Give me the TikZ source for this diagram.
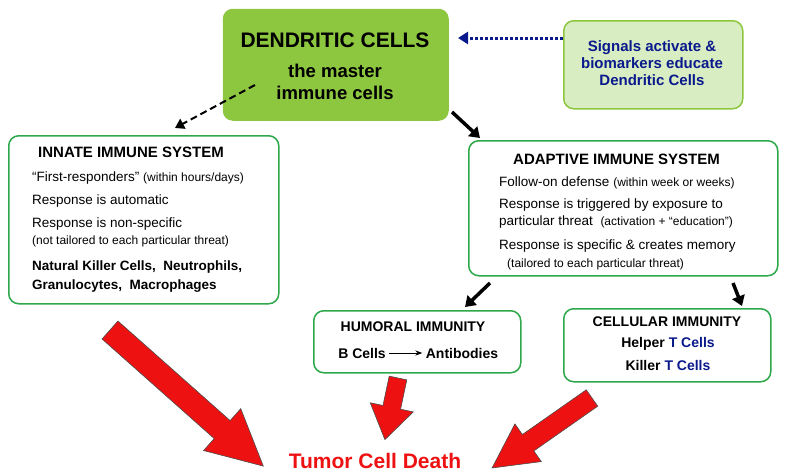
\documentclass[tikz,border=0pt]{standalone}
\usepackage{fontspec}
\setmainfont{Liberation Sans}
\usetikzlibrary{arrows.meta}
\definecolor{gr}{HTML}{8DC63F}
\definecolor{bd}{HTML}{2EA84A}
\definecolor{lg}{HTML}{D8EDC2}
\definecolor{nv}{HTML}{0A1A8C}
\definecolor{rd}{HTML}{EE1111}
\tikzset{
 box/.style={draw=bd,line width=1.5pt,rounded corners=10pt,fill=white},
 t/.style={anchor=west,font=\fontsize{13.5}{15}\selectfont,align=left,inner sep=0},
 blk/.style={line width=3.5pt,-{Triangle[length=10pt,width=13pt]}},
 red/.style={draw=black!70,fill=rd,line width=0.6pt}
}
\begin{document}
\begin{tikzpicture}[x=1pt,y=-1pt]
\useasboundingbox (0,0) rectangle (785,474);
\node[box,draw=none,fill=gr,minimum width=226,minimum height=112,anchor=north west] (dc) at (222,8) {};
\node[font=\bfseries\fontsize{21}{24}\selectfont] (dct) at (335,40) {DENDRITIC CELLS};
\node[font=\bfseries\fontsize{18.5}{22}\selectfont,align=center] (dcs) at (335,82) {the master\\immune cells};
\node[box,fill=lg,draw=gr,minimum width=179,minimum height=88,anchor=north west] (sig) at (563,20) {};
\node[font=\bfseries\fontsize{15}{17}\selectfont,text=nv,align=center] (sigt) at (652,63) {Signals activate \&\\biomarkers educate\\Dendritic Cells};
\draw[nv,line width=3pt,dotted,-{Triangle[length=10pt,width=12pt]}] (sig.west|-0,38) -- (458,38);
% innate
\node[box,minimum width=270,minimum height=168,anchor=north west] (inn) at (8,135) {};
\node[font=\bfseries\fontsize{15}{17}\selectfont,anchor=west,inner sep=0] (it) at (38,152) {INNATE IMMUNE SYSTEM};
\node[t] (i1) at (32,178) {“First-responders” {\fontsize{12}{13}\selectfont(within hours/days)}};
\node[t] (i2) at (32,201) {Response is automatic};
\node[t] (i3) at (32,224) {Response is non-specific};
\node[t,font=\fontsize{12}{13}\selectfont] (i4) at (32,241) {(not tailored to each particular threat)};
\node[t,font=\bfseries\fontsize{13.5}{19}\selectfont] (i5) at (32,277) {Natural Killer Cells,\ \ Neutrophils,\\Granulocytes,\ \ Macrophages};
% adaptive
\node[box,minimum width=309,minimum height=135,anchor=north west] (ad) at (468,140) {};
\node[font=\bfseries\fontsize{15}{17}\selectfont,anchor=west,inner sep=0] (at) at (513,159) {ADAPTIVE IMMUNE SYSTEM};
\node[t] (a1) at (499,183) {Follow-on defense {\fontsize{12}{13}\selectfont(within week or weeks)}};
\node[t] (a2) at (499,205) {Response is triggered by exposure to};
\node[t] (a3) at (499,222) {particular threat\ \ {\fontsize{12}{13}\selectfont(activation + “education”)}};
\node[t] (a4) at (499,246) {Response is specific \& creates memory};
\node[t,font=\fontsize{12}{13}\selectfont] (a5) at (507,264) {(tailored to each particular threat)};
% humoral
\node[box,minimum width=207,minimum height=62,anchor=north west] (hu) at (313,310) {};
\node[font=\bfseries\fontsize{14}{16}\selectfont] (ht) at (413,327) {HUMORAL IMMUNITY};
\node[font=\bfseries\fontsize{14}{16}\selectfont] (b) at (362,353) {B Cells};
\node[font=\bfseries\fontsize{14}{16}\selectfont] (ab) at (462,353) {Antibodies};
\draw[-{Stealth[length=7pt]},line width=0.9pt] (b.east) -- (ab.west);
% cellular
\node[box,minimum width=207,minimum height=73,anchor=north west] (ce) at (563,308) {};
\node[font=\bfseries\fontsize{14}{16}\selectfont] (ct) at (667,322) {CELLULAR IMMUNITY};
\node[font=\bfseries\fontsize{14}{16}\selectfont] (h) at (668,344) {Helper \textcolor{nv}{T Cells}};
\node[font=\bfseries\fontsize{14}{16}\selectfont] (k) at (668,365) {Killer \textcolor{nv}{T Cells}};
% arrows
\coordinate (d1) at (255,85); \coordinate (d2) at (175,128);
\draw[line width=2pt,dash pattern=on 7pt off 4pt,-{Triangle[length=9pt,width=11pt]}] (d1) -- (d2);
\draw[blk] (452,112) -- (480,138);
\draw[blk] (490,283) -- (465,307);
\draw[blk] (733,283) -- (742,306);
\node[font=\bfseries\fontsize{21}{24}\selectfont,text=rd] (tcd) at (375,461) {Tumor Cell Death};
% red arrows
\begin{scope}[shift={(110,330)},rotate=-41.6]
\draw[red] (0,-12) -- (150,-12) -- (150,-28) -- (205,0) -- (150,28) -- (150,12) -- (0,12) -- cycle;
\end{scope}
\begin{scope}[shift={(398,378)},rotate=-102]
\draw[red] (0,-9) -- (30,-9) -- (30,-22) -- (63,0) -- (30,22) -- (30,9) -- (0,9) -- cycle;
\end{scope}
\begin{scope}[shift={(592,398)},rotate=-145]
\draw[red] (0,-10) -- (78,-10) -- (78,-23) -- (122,0) -- (78,23) -- (78,10) -- (0,10) -- cycle;
\end{scope}
\end{tikzpicture}
\end{document}
